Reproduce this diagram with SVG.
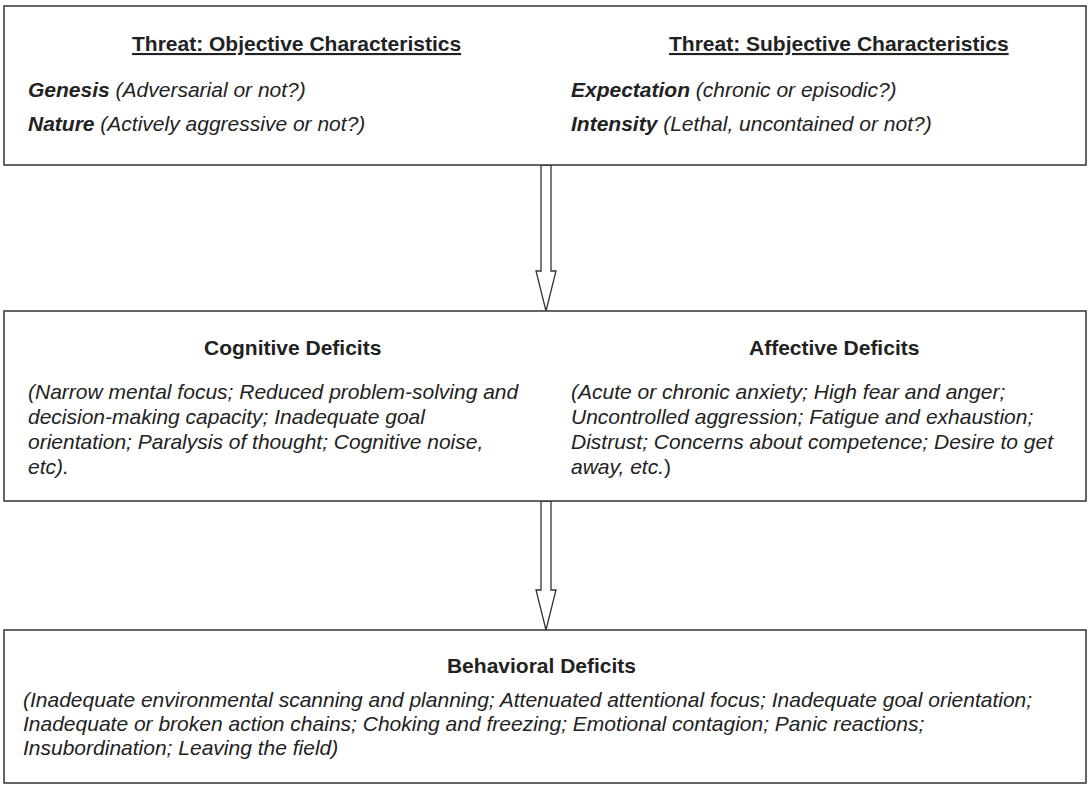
<svg xmlns="http://www.w3.org/2000/svg" width="1089" height="785" viewBox="0 0 1089 785">
  <style>
    .box { fill: #ffffff; stroke: #333333; stroke-width: 1.5; }
    .arrow { fill: #ffffff; stroke: #333333; stroke-width: 1.3; stroke-linejoin: miter; }
    text { font-family: "Liberation Sans", Arial, sans-serif; font-size: 21px; fill: #222222; }
    .title { font-weight: bold; }
    .ul { text-decoration: underline; }
    .body { font-style: italic; }
    .key { font-weight: bold; font-style: italic; }
    .up { font-style: normal; }
  </style>
  <rect width="1089" height="785" fill="#ffffff"/>

  <!-- hollow block arrows between the three tiers -->
  <g id="connectors">
    <polygon class="arrow" points="541,165 551,165 551,271 556,271 546,311 536,271 541,271"/>
    <polygon class="arrow" points="541,501 551,501 551,590 556,590 546,630 536,590 541,590"/>
  </g>

  <g id="threat">
    <rect class="box" x="4" y="6" width="1082" height="159"/>
    <text class="title ul" x="132" y="51">Threat: Objective Characteristics</text>
    <text class="title ul" x="669" y="51">Threat: Subjective Characteristics</text>
    <text x="28" y="97"><tspan class="key">Genesis</tspan><tspan class="body"> (Adversarial or not?)</tspan></text>
    <text x="28" y="131"><tspan class="key">Nature</tspan><tspan class="body"> (Actively aggressive or not?)</tspan></text>
    <text x="571" y="97"><tspan class="key">Expectation</tspan><tspan class="body"> (chronic or episodic?)</tspan></text>
    <text x="571" y="131"><tspan class="key">Intensity</tspan><tspan class="body"> (Lethal, uncontained or not?)</tspan></text>
  </g>

  <g id="deficits">
    <rect class="box" x="4" y="311" width="1082" height="190"/>
    <text class="title" x="204" y="355">Cognitive Deficits</text>
    <text class="title" x="749" y="355">Affective Deficits</text>
    <text class="body" x="28">
      <tspan x="28" y="399">(Narrow mental focus; Reduced problem-solving and</tspan>
      <tspan x="28" y="424">decision-making capacity; Inadequate goal</tspan>
      <tspan x="28" y="449">orientation; Paralysis of thought; Cognitive noise,</tspan>
      <tspan x="28" y="474">etc).</tspan>
    </text>
    <text class="body" x="571">
      <tspan x="571" y="399">(Acute or chronic anxiety; High fear and anger;</tspan>
      <tspan x="571" y="424">Uncontrolled aggression; Fatigue and exhaustion;</tspan>
      <tspan x="571" y="449">Distrust; Concerns about competence; Desire to get</tspan>
      <tspan x="571" y="474">away, etc.<tspan class="up">)</tspan></tspan>
    </text>
  </g>

  <g id="behavioral">
    <rect class="box" x="4" y="630" width="1082" height="153"/>
    <text class="title" x="541.5" y="673" text-anchor="middle">Behavioral Deficits</text>
    <text class="body">
      <tspan x="23" y="707">(Inadequate environmental scanning and planning; Attenuated attentional focus; Inadequate goal orientation;</tspan>
      <tspan x="23" y="731">Inadequate or broken action chains; Choking and freezing; Emotional contagion; Panic reactions;</tspan>
      <tspan x="23" y="755">Insubordination; Leaving the field)</tspan>
    </text>
  </g>
</svg>
